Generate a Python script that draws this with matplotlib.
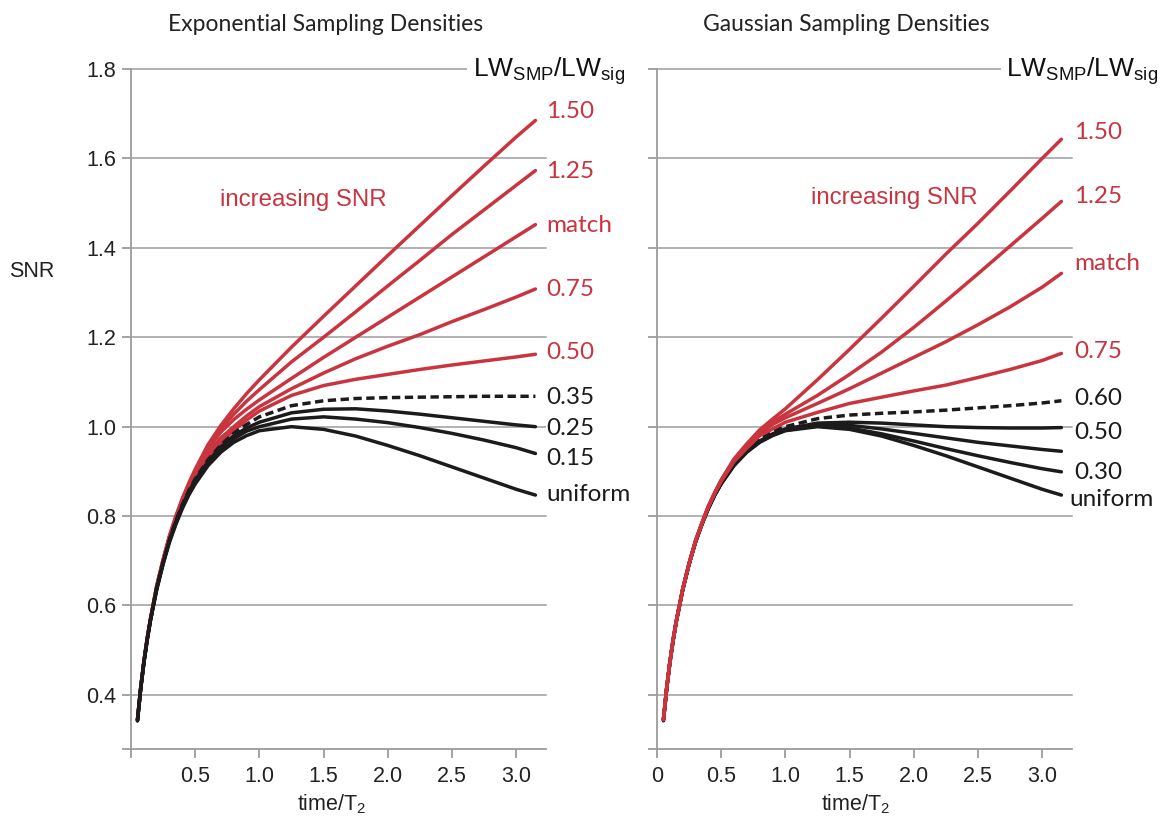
import matplotlib
matplotlib.use("Agg")
import matplotlib.pyplot as plt

# ---- data -------------------------------------------------------------
# time in units of T2
t = [0.05, 0.075, 0.1, 0.125, 0.15, 0.2, 0.25, 0.3, 0.35, 0.4, 0.45, 0.5, 0.6, 0.7,
     0.8, 0.9, 1.0, 1.25, 1.5, 1.75, 2.0, 2.25, 2.5, 2.75, 3.0, 3.15]

# Exponential sampling densities (LW_SMP / LW_sig)
exp_150 = [0.345, 0.416, 0.475, 0.525, 0.568, 0.644, 0.704, 0.757, 0.801, 0.840, 0.874,
           0.905, 0.960, 1.003, 1.040, 1.074, 1.105, 1.178, 1.247, 1.315, 1.383, 1.450,
           1.517, 1.583, 1.648, 1.685]
exp_125 = [0.345, 0.416, 0.475, 0.525, 0.568, 0.643, 0.702, 0.755, 0.799, 0.837, 0.870,
           0.900, 0.955, 0.995, 1.028, 1.057, 1.083, 1.145, 1.200, 1.257, 1.315, 1.372,
           1.430, 1.485, 1.540, 1.573]
exp_match = [0.345, 0.416, 0.475, 0.525, 0.568, 0.643, 0.701, 0.754, 0.798, 0.836, 0.869,
             0.898, 0.950, 0.988, 1.016, 1.039, 1.060, 1.108, 1.155, 1.200, 1.245, 1.290,
             1.335, 1.380, 1.425, 1.452]
exp_075 = [0.344, 0.415, 0.474, 0.524, 0.567, 0.642, 0.700, 0.752, 0.795, 0.833, 0.865,
           0.893, 0.942, 0.975, 1.000, 1.024, 1.045, 1.085, 1.120, 1.152, 1.180, 1.206,
           1.235, 1.262, 1.290, 1.308]
exp_050 = [0.344, 0.415, 0.474, 0.524, 0.567, 0.641, 0.698, 0.750, 0.792, 0.829, 0.860,
           0.887, 0.932, 0.965, 0.992, 1.015, 1.035, 1.070, 1.092, 1.106, 1.117, 1.128,
           1.138, 1.147, 1.156, 1.162]
exp_035 = [0.343, 0.414, 0.473, 0.523, 0.566, 0.640, 0.697, 0.748, 0.790, 0.826, 0.857,
           0.883, 0.926, 0.959, 0.985, 1.005, 1.022, 1.047, 1.058, 1.063, 1.065, 1.066,
           1.067, 1.068, 1.068, 1.068]
exp_025 = [0.343, 0.414, 0.473, 0.522, 0.566, 0.639, 0.696, 0.747, 0.788, 0.824, 0.854,
           0.880, 0.922, 0.955, 0.980, 0.997, 1.010, 1.031, 1.039, 1.040, 1.035, 1.028,
           1.020, 1.012, 1.004, 1.000]
exp_015 = [0.342, 0.413, 0.472, 0.522, 0.565, 0.637, 0.694, 0.745, 0.785, 0.821, 0.851,
           0.876, 0.918, 0.949, 0.973, 0.990, 1.000, 1.017, 1.022, 1.017, 1.009, 0.998,
           0.985, 0.970, 0.953, 0.940]
exp_uniform = [0.342, 0.413, 0.472, 0.521, 0.564, 0.635, 0.693, 0.742, 0.782, 0.817, 0.847,
               0.872, 0.913, 0.943, 0.965, 0.980, 0.991, 1.000, 0.994, 0.979, 0.958, 0.935,
               0.910, 0.885, 0.860, 0.847]

# Gaussian sampling densities (LW_SMP / LW_sig)
gau_150 = [0.345, 0.415, 0.473, 0.523, 0.565, 0.637, 0.695, 0.745, 0.785, 0.822, 0.853,
           0.881, 0.928, 0.962, 0.993, 1.017, 1.040, 1.105, 1.173, 1.243, 1.314, 1.386,
           1.455, 1.527, 1.600, 1.643]
gau_125 = [0.345, 0.415, 0.473, 0.523, 0.565, 0.637, 0.695, 0.745, 0.785, 0.822, 0.852,
           0.880, 0.926, 0.958, 0.990, 1.010, 1.028, 1.070, 1.117, 1.167, 1.222, 1.281,
           1.342, 1.404, 1.466, 1.504]
gau_match = [0.345, 0.415, 0.473, 0.523, 0.565, 0.637, 0.694, 0.744, 0.784, 0.821, 0.852,
             0.879, 0.924, 0.955, 0.985, 1.005, 1.020, 1.052, 1.085, 1.120, 1.155, 1.190,
             1.228, 1.268, 1.312, 1.343]
gau_075 = [0.345, 0.415, 0.473, 0.522, 0.565, 0.636, 0.694, 0.744, 0.784, 0.821, 0.851,
           0.878, 0.922, 0.952, 0.980, 0.995, 1.010, 1.032, 1.052, 1.066, 1.080, 1.093,
           1.110, 1.128, 1.148, 1.164]
gau_060 = [0.345, 0.414, 0.473, 0.522, 0.565, 0.636, 0.693, 0.743, 0.783, 0.820, 0.850,
           0.877, 0.920, 0.950, 0.975, 0.990, 1.000, 1.018, 1.026, 1.030, 1.033, 1.037,
           1.042, 1.047, 1.053, 1.058]
gau_050 = [0.344, 0.414, 0.472, 0.521, 0.564, 0.635, 0.693, 0.743, 0.782, 0.818, 0.848,
           0.874, 0.916, 0.946, 0.968, 0.984, 0.995, 1.008, 1.010, 1.008, 1.004, 1.000,
           0.998, 0.997, 0.997, 0.998]
gau_040 = [0.344, 0.413, 0.472, 0.521, 0.564, 0.635, 0.693, 0.742, 0.782, 0.818, 0.848,
           0.873, 0.915, 0.945, 0.967, 0.982, 0.993, 1.005, 1.003, 0.995, 0.985, 0.975,
           0.965, 0.957, 0.949, 0.945]
gau_030 = [0.344, 0.413, 0.472, 0.521, 0.564, 0.635, 0.693, 0.742, 0.782, 0.817, 0.847,
           0.873, 0.914, 0.944, 0.966, 0.981, 0.992, 1.002, 0.997, 0.984, 0.968, 0.951,
           0.935, 0.920, 0.906, 0.899]
gau_uniform = [0.342, 0.413, 0.472, 0.521, 0.564, 0.635, 0.693, 0.742, 0.782, 0.817, 0.847,
               0.872, 0.913, 0.943, 0.965, 0.980, 0.991, 1.000, 0.994, 0.979, 0.958, 0.935,
               0.910, 0.885, 0.860, 0.847]

exp_names = ["1.50", "1.25", "match", "0.75", "0.50", "0.35", "0.25", "0.15", "uniform"]
exp_series = [exp_150, exp_125, exp_match, exp_075, exp_050, exp_035, exp_025, exp_015,
              exp_uniform]
gau_names = ["1.50", "1.25", "match", "0.75", "0.60", "0.50", "0.40", "0.30", "uniform"]
gau_series = [gau_150, gau_125, gau_match, gau_075, gau_060, gau_050, gau_040, gau_030,
              gau_uniform]
gau_shown = ["1.50", "1.25", "match", "0.75", "0.60", "0.50", "", "0.30", "uniform"]

y_grid = [0.4, 0.6, 0.8, 1.0, 1.2, 1.4, 1.6, 1.8]
y_grid_labels = ["0.4", "0.6", "0.8", "1.0", "1.2", "1.4", "1.6", "1.8"]
x_ticks = [0, 0.5, 1.0, 1.5, 2.0, 2.5, 3.0]
x_labels_exp = ["", "0.5", "1.0", "1.5", "2.0", "2.5", "3.0"]
x_labels_gau = ["0", "0.5", "1.0", "1.5", "2.0", "2.5", "3.0"]

# ---- style ------------------------------------------------------------
RED = "#C9343F"
BLACK = "#1b1b1b"
GRAY = "#9c9c9c"
SANS = ["Liberation Sans", "DejaVu Sans"]
HUMAN = ["Lato", "DejaVu Sans"]
Y_BOTTOM = 0.279
X_MAX = 3.23

# label anchor positions at the curve ends (data units)
exp_label_y = [1.706, 1.570, 1.451, 1.306, 1.167, 1.066, 0.997, 0.928, 0.849]
exp_label_x = [3.235] * 9
gau_label_y = [1.657, 1.514, 1.364, 1.169, 1.064, 0.988, 0.95, 0.898, 0.838]
gau_label_x = [3.25, 3.25, 3.25, 3.25, 3.25, 3.25, 3.25, 3.25, 3.21]

fig = plt.figure(figsize=(11.67, 8.21), dpi=100)
ax_e = fig.add_axes([0.1123, 0.0877, 0.3553, 0.8282])
ax_g = fig.add_axes([0.5630, 0.0877, 0.3553, 0.8282])


def style_axes(ax, xlabels, ylabels):
    ax.set_xlim(0, X_MAX)
    ax.set_ylim(Y_BOTTOM, 1.8)
    for side in ("top", "right"):
        ax.spines[side].set_visible(False)
    for side in ("left", "bottom"):
        ax.spines[side].set_color(GRAY)
        ax.spines[side].set_linewidth(1.3)
    ax.set_xticks(x_ticks)
    ax.set_xticklabels(xlabels)
    ax.set_yticks([Y_BOTTOM] + y_grid)
    ax.set_yticklabels([""] + ylabels)
    ax.tick_params(axis="both", direction="out", length=6.5, width=1.3, color=GRAY,
                   labelsize=15.5, labelcolor="#222222")
    ax.tick_params(axis="x", pad=6)
    ax.tick_params(axis="y", pad=4)
    for lab in ax.get_xticklabels() + ax.get_yticklabels():
        lab.set_family(SANS)
    for y in y_grid:
        ax.axhline(y, color=GRAY, lw=1.1, zorder=1, clip_on=False)
    ax.set_facecolor("none")


style_axes(ax_e, x_labels_exp, y_grid_labels)
style_axes(ax_g, x_labels_gau, [""] * len(y_grid))


def draw_panel(ax, names, series, shown, lab_x, lab_y, n_red, dashed, red_on_top):
    for i, (name, ys) in enumerate(zip(names, series)):
        is_red = i < n_red
        color = RED if is_red else BLACK
        if red_on_top:
            z = 4 if is_red else 3
        else:
            z = 3 if is_red else 4
        if name == dashed:
            ax.plot(t, ys, color=color, lw=2.5, ls=(0, (2.4, 1.3)), zorder=z,
                    dash_capstyle="butt")
        else:
            ax.plot(t, ys, color=color, lw=2.5, zorder=z, solid_capstyle="round",
                    solid_joinstyle="round")
        if shown[i]:
            ax.text(lab_x[i], lab_y[i], shown[i], color=color, fontsize=17.5,
                    family=HUMAN, ha="left", va="center", zorder=6, clip_on=False,
                    bbox=dict(boxstyle="square,pad=0.0", fc="white", ec="none"))


draw_panel(ax_e, exp_names, exp_series, exp_names, exp_label_x, exp_label_y,
           5, "0.35", red_on_top=False)
draw_panel(ax_g, gau_names, gau_series, gau_shown, gau_label_x, gau_label_y,
           4, "0.60", red_on_top=True)

# header of the curve labels and the trend note
lw_text = r"LW$_{\mathregular{SMP}}$/LW$_{\mathregular{sig}}$"
for ax, x_head, x_note, y_note in ((ax_e, 2.66, 0.69, 1.507), (ax_g, 2.72, 1.20, 1.511)):
    ax.text(x_head, 1.784, lw_text, fontsize=19, family=SANS, color="#111111",
            ha="left", va="baseline", zorder=7, clip_on=False,
            bbox=dict(boxstyle="square,pad=0.2", fc="white", ec="none"))
    ax.text(x_note, y_note, "increasing SNR", fontsize=17.3, family=SANS, color=RED,
            ha="left", va="center", zorder=6)

# panel titles
fig.text(0.2790, 0.970, "Exponential Sampling Densities", fontsize=16.5, family=HUMAN,
         color="#222222", ha="center", va="center")
fig.text(0.7254, 0.970, "Gaussian Sampling Densities", fontsize=16.5, family=HUMAN,
         color="#222222", ha="center", va="center")

# axis titles
fig.text(0.027, 0.669, "SNR", fontsize=15.5, family=SANS, color="#222222",
         ha="center", va="center")
xl = r"time/T$_{\mathregular{2}}$"
fig.text(0.2845, 0.021, xl, fontsize=15.5, family=SANS, color="#222222",
         ha="center", va="center")
fig.text(0.7335, 0.021, xl, fontsize=15.5, family=SANS, color="#222222",
         ha="center", va="center")

fig.savefig("out.png", dpi=100, facecolor="white")
